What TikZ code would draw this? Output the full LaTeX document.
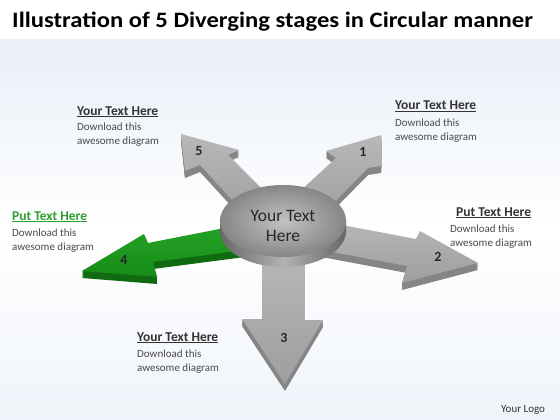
\documentclass[tikz,border=0pt]{standalone}
\usepackage{fontspec}
\setmainfont{Carlito}
\definecolor{bgblue}{HTML}{E9EFF8}
\definecolor{grtop}{HTML}{B8B8B8}
\definecolor{grbot}{HTML}{9E9E9E}
\definecolor{grside}{HTML}{858585}
\definecolor{gntop}{HTML}{25A325}
\definecolor{gnbot}{HTML}{178C17}
\definecolor{gnside}{HTML}{106A10}
\definecolor{headgreen}{HTML}{2E9E2E}
\definecolor{txtgray}{HTML}{4A4A4A}
\definecolor{discin}{HTML}{C2C2C2}
\definecolor{discout}{HTML}{868686}
\begin{document}
\begin{tikzpicture}[x=1pt,y=-1pt,
  headtxt/.style={font=\bfseries\fontsize{13.5}{15}\selectfont, text=black!80, anchor=base west, inner sep=0pt},
  bodytxt/.style={font=\fontsize{11}{13.5}\selectfont, text=txtgray, anchor=base west, inner sep=0pt, align=left},
  numtxt/.style={font=\bfseries\fontsize{14}{16}\selectfont, text=black!85, inner sep=0pt},
  grayface/.style={top color=grtop, bottom color=grbot},
  greenface/.style={top color=gntop, bottom color=gnbot}]
\useasboundingbox (0,0) rectangle (560,420);
% background
\fill[white] (0,0) rectangle (560,420);
\shade[top color=bgblue, bottom color=white] (0,40) rectangle (560,230);
\shade[top color=white, bottom color=bgblue!70] (0,230) rectangle (560,420);
% title
\node[font=\bfseries\fontsize{22}{26}\selectfont, anchor=base west, inner sep=0pt] (title) at (12,28) {\scalebox{1.12}[1]{Illustration of 5 Diverging stages in Circular manner}};
% arrow shapes
\def\arrA{(381,135) -- (381,166) -- (368,168) -- (315,222) -- (285,205) -- (336,158) -- (326,151) -- cycle}
\def\arrB{(300,217) -- (416,239) -- (420,231) -- (478,263) -- (402,283) -- (407,266) -- (300,246) -- cycle}
\def\arrC{(262,250) -- (262,319) -- (242,319) -- (285,384) -- (323,320) -- (304,320) -- (304,250) -- cycle}
\def\arrD{(245,224) -- (148,243) -- (144,234) -- (82,271) -- (157,277) -- (153,262) -- (245,250) -- cycle}
\def\arrE{(181,134) -- (239,150) -- (228,155) -- (285,212) -- (255,225) -- (200,165) -- (185,171) -- cycle}
% extrusions
\foreach \d in {1,...,7}{
  \fill[grside, yshift=-\d pt] \arrA;
  \fill[grside, yshift=-\d pt] \arrB;
  \fill[grside, yshift=-\d pt] \arrC;
  \fill[gnside, yshift=-\d pt] \arrD;
  \fill[grside, yshift=-\d pt] \arrE;
}
% top faces
\shade[grayface] \arrA;
\shade[grayface] \arrB;
\shade[grayface] \arrC;
\shade[greenface] \arrD;
\shade[grayface] \arrE;
% central disc side
\begin{scope}
  \clip (210,221) rectangle (356,275);
  \shade[left color=gray!80!black, right color=gray!80!black, middle color=gray!60] (283,231) ellipse [x radius=63pt, y radius=36pt];
  \shade[left color=gray!80!black, right color=gray!80!black, middle color=gray!60] (220,221) rectangle (346,231);
\end{scope}
% central disc top
\shade[inner color=discin, outer color=discout] (283,221) ellipse [x radius=63pt, y radius=36pt];
\node[font=\fontsize{17.5}{20.5}\selectfont, text=black!85, align=center, inner sep=0pt] (center) at (283,226) {Your Text\\Here};
% numbers
\node[numtxt] (n1) at (363,152) {1};
\node[numtxt] (n2) at (438,257) {2};
\node[numtxt] (n3) at (284,338) {3};
\node[numtxt] (n4) at (124,260) {4};
\node[numtxt] (n5) at (199,151) {5};
% text blocks
\node[headtxt] (h5) at (77,115) {\underline{Your Text Here}};
\node[bodytxt] (b5) at (77,144) {Download this\\awesome diagram};
\node[headtxt] (h1) at (395,110) {\underline{Your Text Here}};
\node[bodytxt] (b1) at (395,140) {Download this\\awesome diagram};
\node[headtxt] (h2) at (456,216) {\underline{Put Text Here}};
\node[bodytxt] (b2) at (450,246) {Download this\\awesome diagram};
\node[headtxt, text=headgreen] (h4) at (12,220) {\underline{Put Text Here}};
\node[bodytxt] (b4) at (12,250) {Download this\\awesome diagram};
\node[headtxt] (h3) at (137,341) {\underline{Your Text Here}};
\node[bodytxt] (b3) at (137,371) {Download this\\awesome diagram};
\node[font=\fontsize{11}{13}\selectfont, text=black!80, anchor=base west, inner sep=0pt] (logo) at (501,412) {Your Logo};
\end{tikzpicture}
\end{document}
